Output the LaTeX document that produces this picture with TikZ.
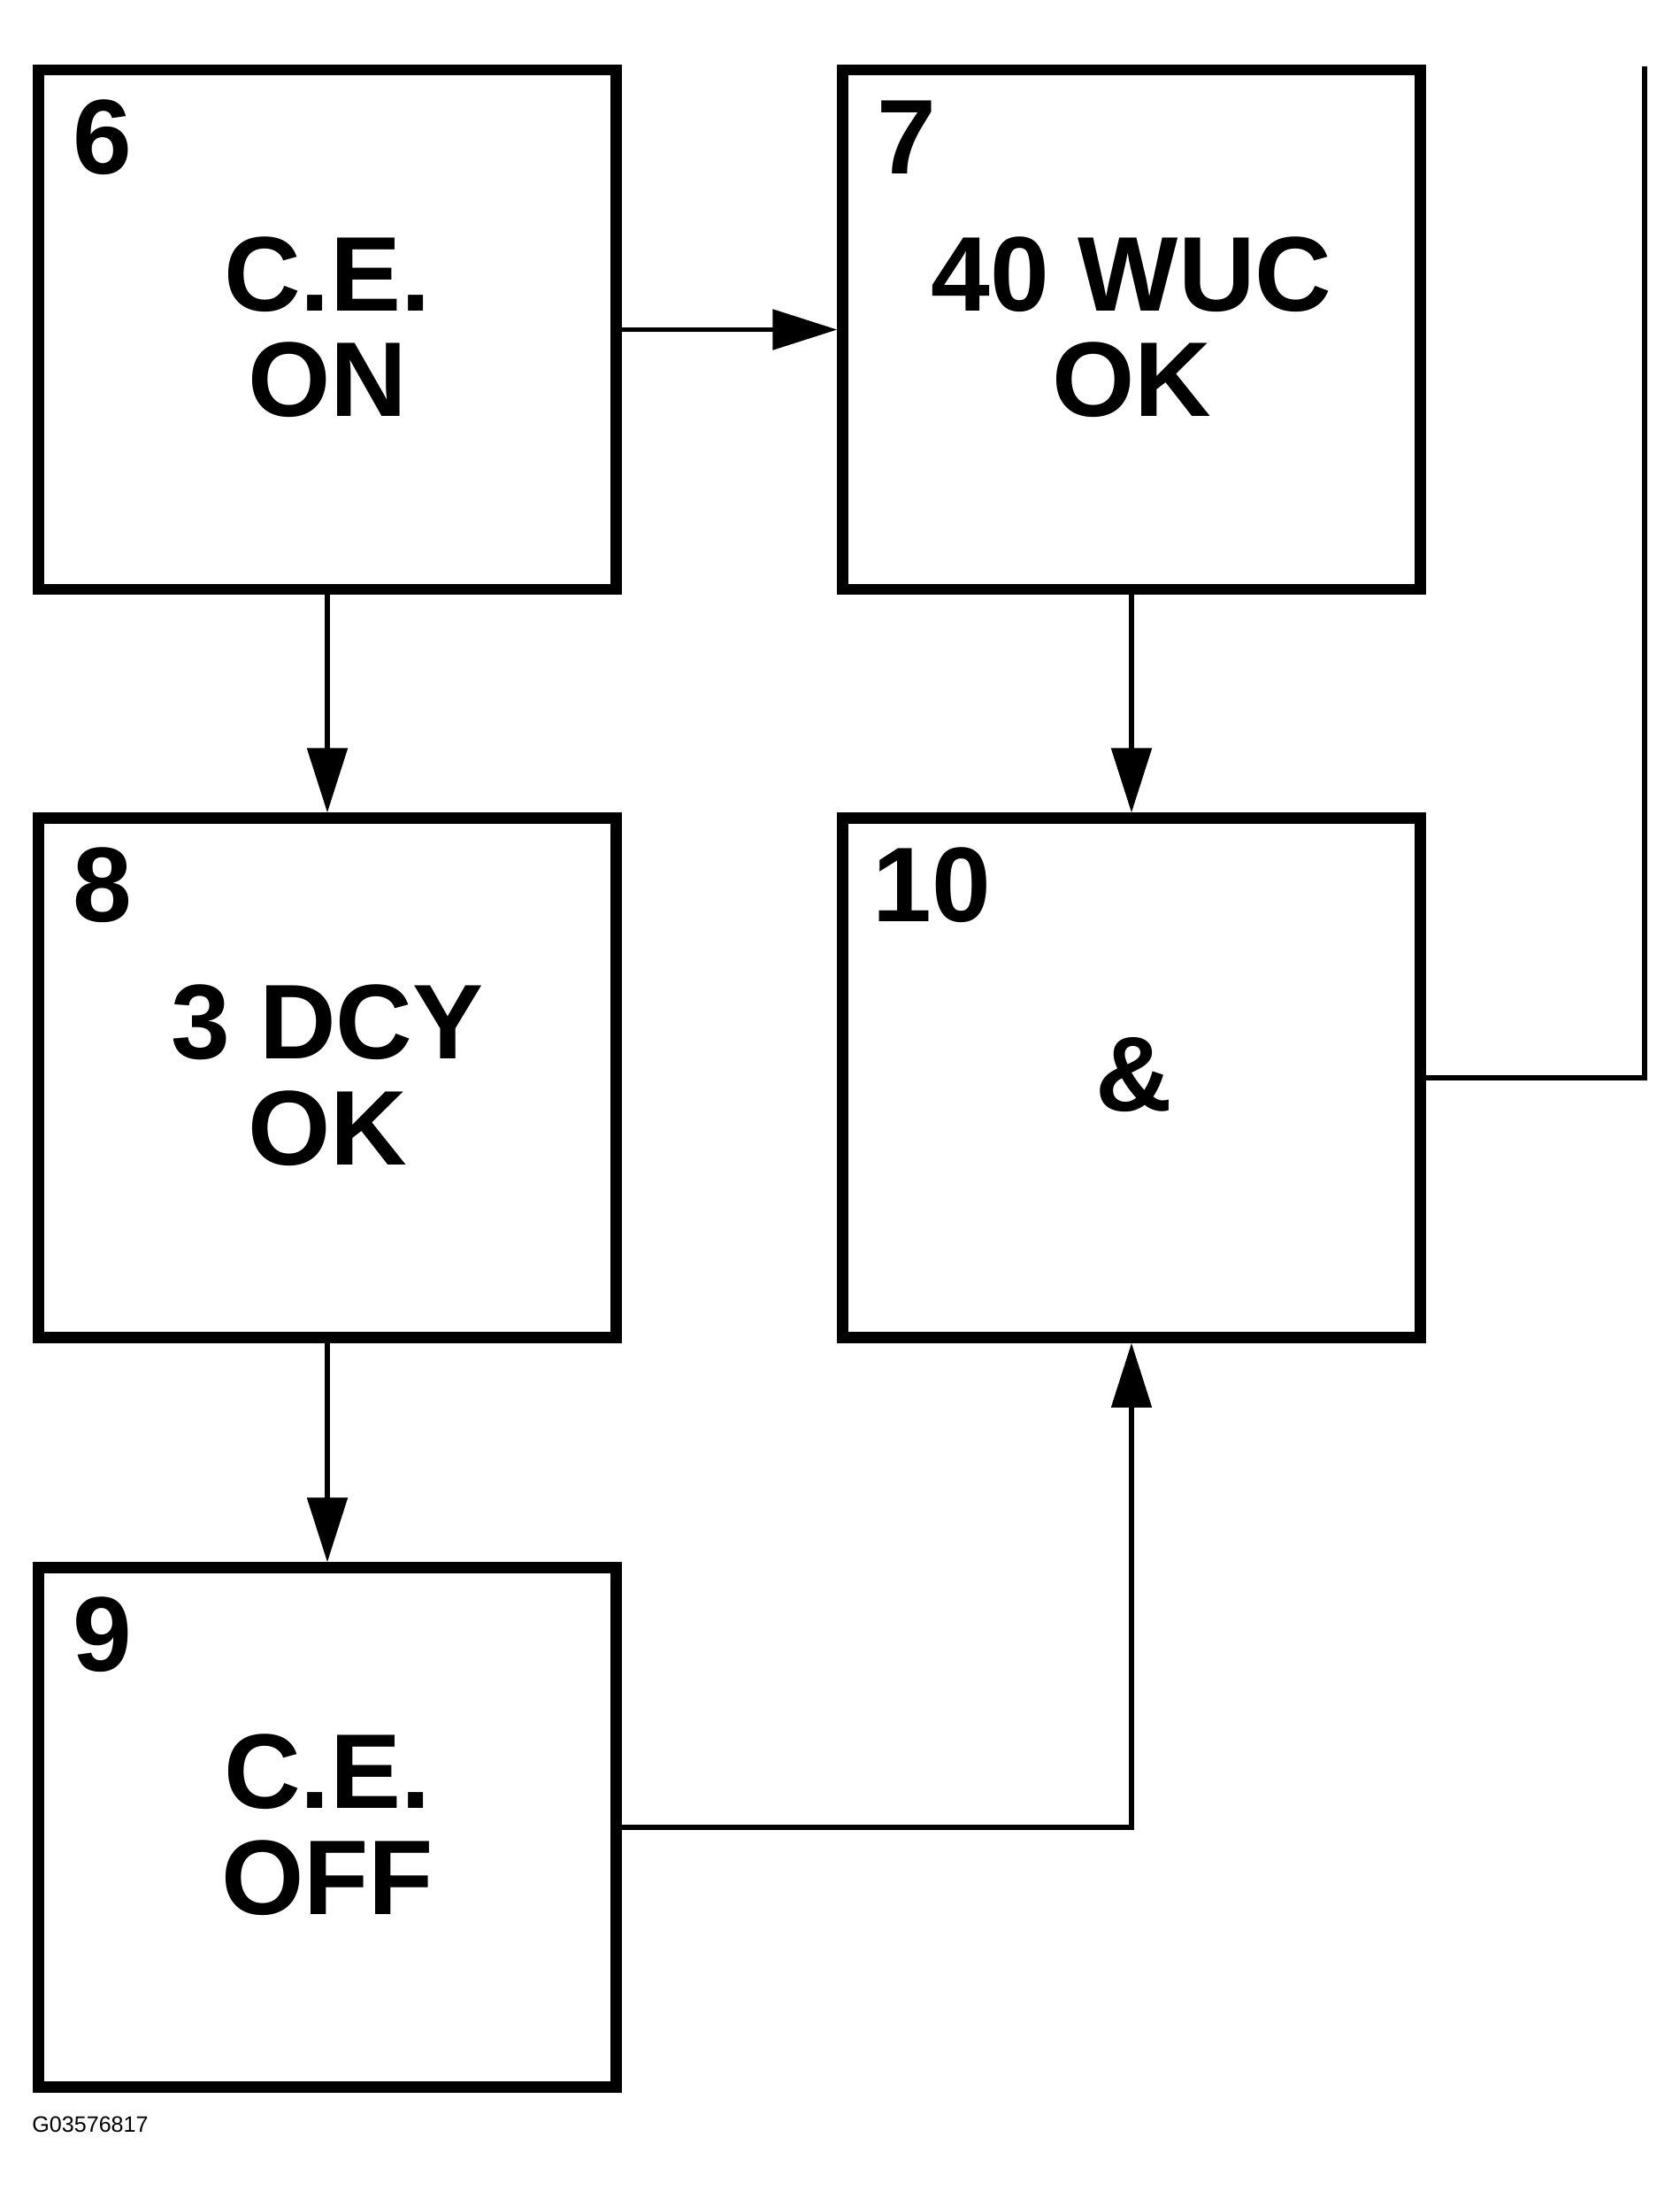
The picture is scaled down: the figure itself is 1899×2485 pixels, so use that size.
\documentclass[tikz,border=0pt]{standalone}
\usepackage{fontspec}
\setmainfont{Liberation Sans}
\usetikzlibrary{arrows.meta,calc}
\begin{document}
\begin{tikzpicture}[x=0.02cm,y=-0.02cm,
  box/.style={draw,line width=0.25cm,minimum width=13.06cm,minimum height=11.74cm,inner sep=0pt},
  conn/.style={line width=0.11cm},
  arr/.style={conn,-{Triangle[length=1.46cm,width=0.9cm]}},
  num/.style={font=\fontsize{68.3pt}{82pt}\selectfont\bfseries,anchor=base west,inner sep=0pt},
  txt/.style={font=\fontsize{68.3pt}{82pt}\selectfont\bfseries,anchor=base,inner sep=0pt},
  code/.style={font=\fontsize{14.3pt}{17pt}\selectfont,anchor=base west,inner sep=0pt}]
\useasboundingbox (0,0) rectangle (1899,2485);
% boxes
\node[box] (b6) at (370,372.5) {};
\node[box] (b7) at (1279,372.5) {};
\node[box] (b8) at (370,1218) {};
\node[box] (b10) at (1279,1218) {};
\node[box] (b9) at (370,2065) {};
% numbers
\node[num] (n6) at ($(b6.center)+(-288,-176.5)$) {6};
\node[num] (n7) at ($(b7.center)+(-288,-176.5)$) {7};
\node[num] (n8) at ($(b8.center)+(-288,-176.5)$) {8};
\node[num] (n10) at ($(b10.center)+(-293,-176.5)$) {10};
\node[num] (n9) at ($(b9.center)+(-288,-176.5)$) {9};
% texts
\node[txt] (t6a) at ($(b6.center)+(0,-21.5)$) {C.E.};
\node[txt] (t6b) at ($(b6.center)+(0,98)$) {ON};
\node[txt] (t7a) at ($(b7.center)+(0,-21.5)$) {40 WUC};
\node[txt] (t7b) at ($(b7.center)+(0,98)$) {OK};
\node[txt] (t8a) at ($(b8.center)+(0,-21.5)$) {3 DCY};
\node[txt] (t8b) at ($(b8.center)+(0,98)$) {OK};
\node[txt] (t10) at ($(b10.center)+(3,37)$) {\&};
\node[txt] (t9a) at ($(b9.center)+(0,-21.5)$) {C.E.};
\node[txt] (t9b) at ($(b9.center)+(0,98)$) {OFF};
% connectors
\draw[arr] (b6.east) -- (b7.west);
\draw[arr] (b6.south) -- (b8.north);
\draw[arr] (b7.south) -- (b10.north);
\draw[arr] (b8.south) -- (b9.north);
\draw[arr] (b9.east) -| (b10.south);
\coordinate (out) at (1859,75);
\draw[conn] (b10.east) -| (out);
% code
\node[code] (id) at (36,2409) {G03576817};
\end{tikzpicture}
\end{document}
